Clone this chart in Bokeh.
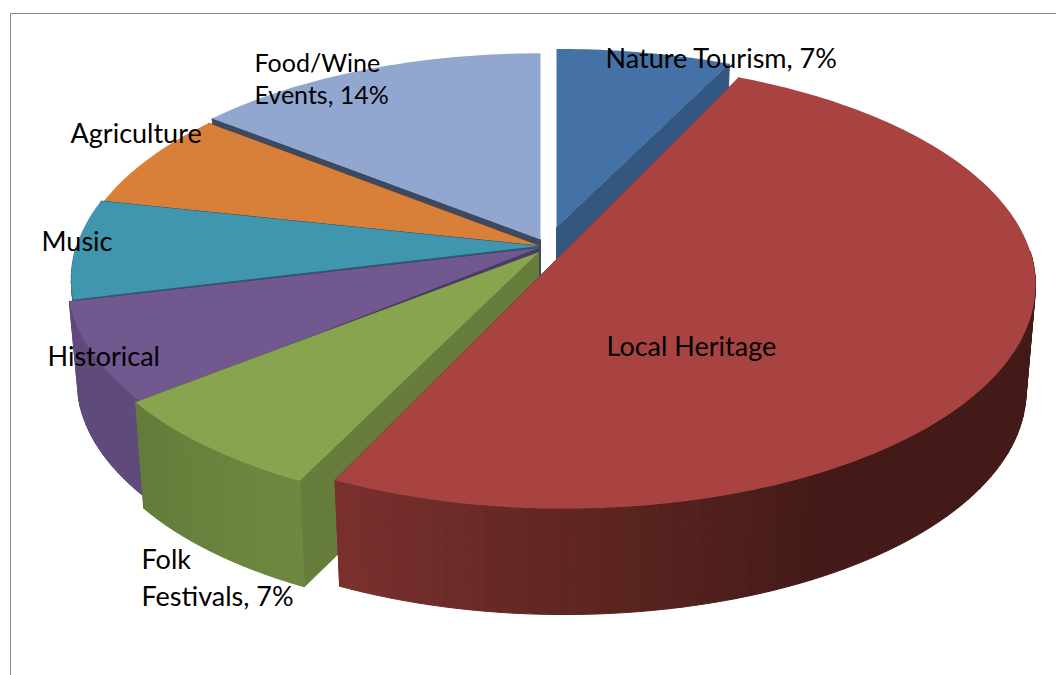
import numpy as np
from bokeh.plotting import figure
from bokeh.models import Range1d
from bokeh.core.properties import value
from bokeh.embed import file_html
from bokeh.resources import INLINE

# --- data
categories = ["Nature Tourism", "Local Heritage", "Folk Festivals", "Historical", "Music", "Agriculture", "Food/Wine Events"]
shares = [7.0, 50.0, 7.0, 7.2, 7.2, 7.2, 14.4]

# --- labels (text, left x, baseline y)
label_text = ["Nature Tourism, 7%", "Local Heritage", "Agriculture", "Music", "Historical", "Folk", "Festivals, 7%"]
label_x = [605, 606, 70, 41, 47, 141, 141]
label_y = [57, 345, 132, 240, 355, 558, 595]
narrow_text = ["Food/Wine", "Events, 14%"]
narrow_x = [254, 254]
narrow_y = [61, 93]
FONT_SIZE = "27px"
NARROW_SIZE = "25px"

# --- styles, same order as categories
face_colors = ["#4472a6", "#a84341", "#88a44e", "#71588f", "#4096ae", "#d8803a", "#92a7cf"]
radial_colors = ["#325780", "#7b312e", "#667d3b", "#4a3a66", "#256273", "#7a4a20", "#3b4a60"]
wall_near = ["#325780", "#7b312e", "#637b39", "#5f4a7c", "#2f7085", "#a5622b", "#6d7d9b"]
wall_far = ["#325780", "#431a17", "#6e8841", "#5f4a7c", "#2f7085", "#a5622b", "#6d7d9b"]
# vertex position, scale and perspective of each exploded slice
vx = [556, 564, 538, 538, 538, 538, 540]
vy = [227, 251, 252, 247.5, 245.5, 245, 239]
sx = [0.99, 1.0, 0.965, 1.0, 0.992, 0.985, 0.98]
sy = [0.94, 1.0, 0.925, 1.0, 1.0, 0.99, 0.98]
persp = [0.15, 0.15, 0.22, 0.15, 0.15, 0.15, 0.15]
depth = [105, 106, 106, 99, 99, 99, 99]
draw_order = [6, 5, 4, 3, 2, 0, 1]

R, RY = 465.7, 218.5
BOTTOM_X = 0.98


def project(i, theta, low=False):
    d = 1 + persp[i] * np.cos(theta)
    x = vx[i] + R * np.sin(theta) / d * sx[i] * (BOTTOM_X if low else 1)
    y = vy[i] - RY * np.cos(theta) / d * sy[i] + (depth[i] if low else 0)
    return x, y


def hex_rgb(c):
    return np.array([int(c[j:j + 2], 16) for j in (1, 3, 5)], float)


def mix(a, b, t):
    r = hex_rgb(a) * (1 - t) + hex_rgb(b) * t
    return "#%02x%02x%02x" % tuple(int(round(v)) for v in r)


total = sum(shares)
edges = np.concatenate([[0], np.cumsum(shares)]) / total * 2 * np.pi

p = figure(width=1056, height=675, x_range=Range1d(0, 1056), y_range=Range1d(675, 0),
           output_backend="svg", toolbar_location=None, min_border=0)
p.axis.visible = False
p.grid.visible = False
p.outline_line_color = None
p.background_fill_color = "white"
p.border_fill_color = "white"

# chart frame
p.segment([10, 10], [13, 13], [10, 1056], [675, 13], line_color="#868686", line_width=1)

for i in draw_order:
    a0, a1 = edges[i], edges[i + 1]
    vx_i, vy_i = vx[i], vy[i]
    # radial walls (a wall lying along the straight-up direction is hidden)
    for a in (a0, a1):
        if abs(np.sin(a)) < 1e-6:
            continue
        tx, ty = project(i, a)
        bx, by = project(i, a, True)
        p.patch([vx_i, tx, bx, vx_i], [vy_i, ty, by, vy_i + depth[i]],
                fill_color=radial_colors[i], line_color=radial_colors[i], line_width=1)
    # outer wall (front half only) as thin strips with a shade along the arc
    front0, front1 = max(a0, np.pi / 2), min(a1, 3 * np.pi / 2)
    if front1 > front0:
        n = max(4, int(np.degrees(front1 - front0) / 1.5))
        t = np.linspace(front0, front1, n + 1)
        xs, ys, cs = [], [], []
        for j in range(n):
            ax, ay = project(i, t[j])
            bx, by = project(i, t[j + 1])
            cx, cy = project(i, t[j + 1], True)
            dx, dy = project(i, t[j], True)
            xs.append([ax, bx, cx, dx])
            ys.append([ay, by, cy, dy])
            f = min(1.0, (a1 - t[j]) / min(a1 - a0, np.radians(55)))
            cs.append(mix(wall_near[i], wall_far[i], f))
        p.patches(xs, ys, fill_color=cs, line_color=cs, line_width=1)
    # top face
    arc = np.linspace(a0, a1, max(8, int(np.degrees(a1 - a0))))
    fx, fy = project(i, arc)
    p.patch(np.concatenate([[vx_i], fx]), np.concatenate([[vy_i], fy]),
            fill_color=face_colors[i], line_color=None)

p.text(label_x, label_y, text=label_text, text_font=value("Lato"), text_font_size=FONT_SIZE,
       text_color="#000000", text_align="left", text_baseline="alphabetic")
p.text(narrow_x, narrow_y, text=narrow_text, text_font=value("Lato"), text_font_size=NARROW_SIZE,
       text_color="#000000", text_align="left", text_baseline="alphabetic")

open("out.html", "w").write(file_html(p, INLINE))
